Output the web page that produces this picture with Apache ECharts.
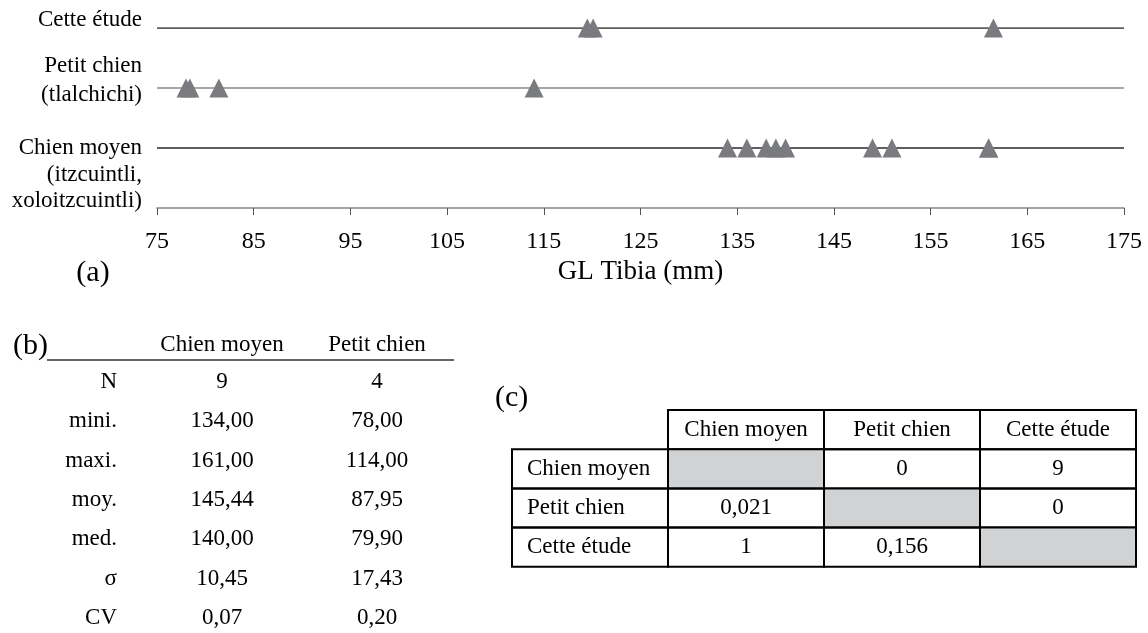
<!DOCTYPE html>
<html><head><meta charset="utf-8">
<script src="https://cdn.jsdelivr.net/npm/echarts@6/dist/echarts.min.js"></script>
<style>html,body{margin:0;padding:0;background:#fff}#c{width:1148px;height:633px}</style>
</head><body><div id="c"></div>
<script>
// ---------- data ----------
const rowLabelLines = [['Cette étude'], ['Petit chien', '(tlalchichi)'], ['Chien moyen', '(itzcuintli,', 'xoloitzcuintli)']];
const rowLevels = [3, 2, 1];
const cetteEtude = [119.5, 120.1, 161.5];
const petitChien = [78.0, 78.4, 81.4, 114.0];
const chienMoyen = [134, 136, 138, 139, 140, 149, 151, 161, 161];
const xMin = 75, xMax = 175, xInterval = 10;
const xAxisName = 'GL Tibia (mm)';

const statsHeader = ['Chien moyen', 'Petit chien'];
const statsLabels = ['N', 'mini.', 'maxi.', 'moy.', 'med.', 'σ', 'CV'];
const statsChienMoyen = ['9', '134,00', '161,00', '145,44', '140,00', '10,45', '0,07'];
const statsPetitChien = ['4', '78,00', '114,00', '87,95', '79,90', '17,43', '0,20'];

const testNames = ['Chien moyen', 'Petit chien', 'Cette étude'];
const testMatrix = [[null, '0', '9'], ['0,021', null, '0'], ['1', '0,156', null]];

// ---------- styles ----------
const FONT = '"Liberation Serif", "Times New Roman", serif';
const TRI = '#797b7f';
const rowLineColors = ['#2a2a2a', '#8a8a8a', '#2a2a2a'];
const FS = 23;

const chart = echarts.init(document.getElementById('c'), null, {renderer: 'canvas'});

const rowSeries = rowLevels.map((lv, i) => ({
  type: 'line', silent: true, symbol: 'none', z: 1,
  data: [[xMin, lv], [xMax, lv]],
  lineStyle: {color: rowLineColors[i], width: 1.4}
}));
const pointSets = [cetteEtude, petitChien, chienMoyen];
const triSeries = pointSets.map((arr, i) => ({
  type: 'scatter', symbol: 'triangle', symbolSize: [19, 19], z: 3, silent: true,
  itemStyle: {color: TRI, opacity: 1},
  data: arr.map(v => [v, rowLevels[i]])
}));

chart.setOption({
  animation: false,
  backgroundColor: '#fff',
  grid: {left: 157, right: 24, top: 28, bottom: 425},
  xAxis: {
    type: 'value', min: xMin, max: xMax, interval: xInterval,
    name: xAxisName, nameLocation: 'middle', nameGap: 50,
    nameTextStyle: {fontFamily: FONT, fontSize: 27, color: '#000'},
    axisLine: {lineStyle: {color: '#888', width: 1.6}},
    axisTick: {show: true, length: 7, inside: false, lineStyle: {color: '#555', width: 1}},
    axisLabel: {fontFamily: FONT, fontSize: 24, color: '#000', margin: 22},
    splitLine: {show: false}
  },
  yAxis: {type: 'value', min: 0, max: 3, show: false},
  series: rowSeries.concat(triSeries)
});

// ---------- graphic texts / tables ----------
const g = [];
function txt(text, x, y, size, align) {
  g.push({type: 'text', silent: true, style: {text, x, y, font: size + 'px ' + FONT, fill: '#000', textAlign: align || 'center', textVerticalAlign: 'middle', verticalAlign: 'middle'}});
}
// row labels
const rowOffsets = [[-8], [-22, 7], [0, 27, 53]];
rowLevels.forEach((lv, i) => {
  const py = chart.convertToPixel({gridIndex: 0}, [xMin, lv])[1];
  rowLabelLines[i].forEach((line, j) => txt(line, 142, py + rowOffsets[i][j], FS, 'right'));
});
txt('(a)', 93, 273, 30);

// table (b)
txt('(b)', 13, 346, 30, 'left');
const bCols = [222, 377];
statsHeader.forEach((h, i) => txt(h, bCols[i], 345, FS));
g.push({type: 'line', silent: true, shape: {x1: 47, y1: 360, x2: 454, y2: 360}, style: {stroke: '#333', lineWidth: 1.3}});
statsLabels.forEach((lab, r) => {
  const y = 382 + r * 39.3;
  txt(lab, 117, y, FS, 'right');
  txt(statsChienMoyen[r], bCols[0], y, FS);
  txt(statsPetitChien[r], bCols[1], y, FS);
});

// table (c)
txt('(c)', 495, 398, 30, 'left');
const cx0 = 512, cw = 156, cy0 = 410, ch = 39.2;
function cell(c, r, fill) {
  g.push({type: 'rect', silent: true, shape: {x: cx0 + c * cw, y: cy0 + r * ch, width: cw, height: ch}, style: {fill: fill || 'transparent', stroke: '#000', lineWidth: 2}, z: 1});
}
testNames.forEach((n, i) => {
  cell(i + 1, 0);
  txt(n, cx0 + (i + 1.5) * cw, cy0 + ch / 2, FS);
});
testNames.forEach((n, r) => {
  cell(0, r + 1);
  txt(n, cx0 + 15, cy0 + (r + 1.5) * ch, FS, 'left');
  testMatrix[r].forEach((v, c) => {
    cell(c + 1, r + 1, v === null ? '#d1d2d4' : null);
    if (v !== null) txt(v, cx0 + (c + 1.5) * cw, cy0 + (r + 1.5) * ch, FS);
  });
});

chart.setOption({graphic: g.map(e => Object.assign({z: e.z || 10}, e))});
</script>
</body></html>
